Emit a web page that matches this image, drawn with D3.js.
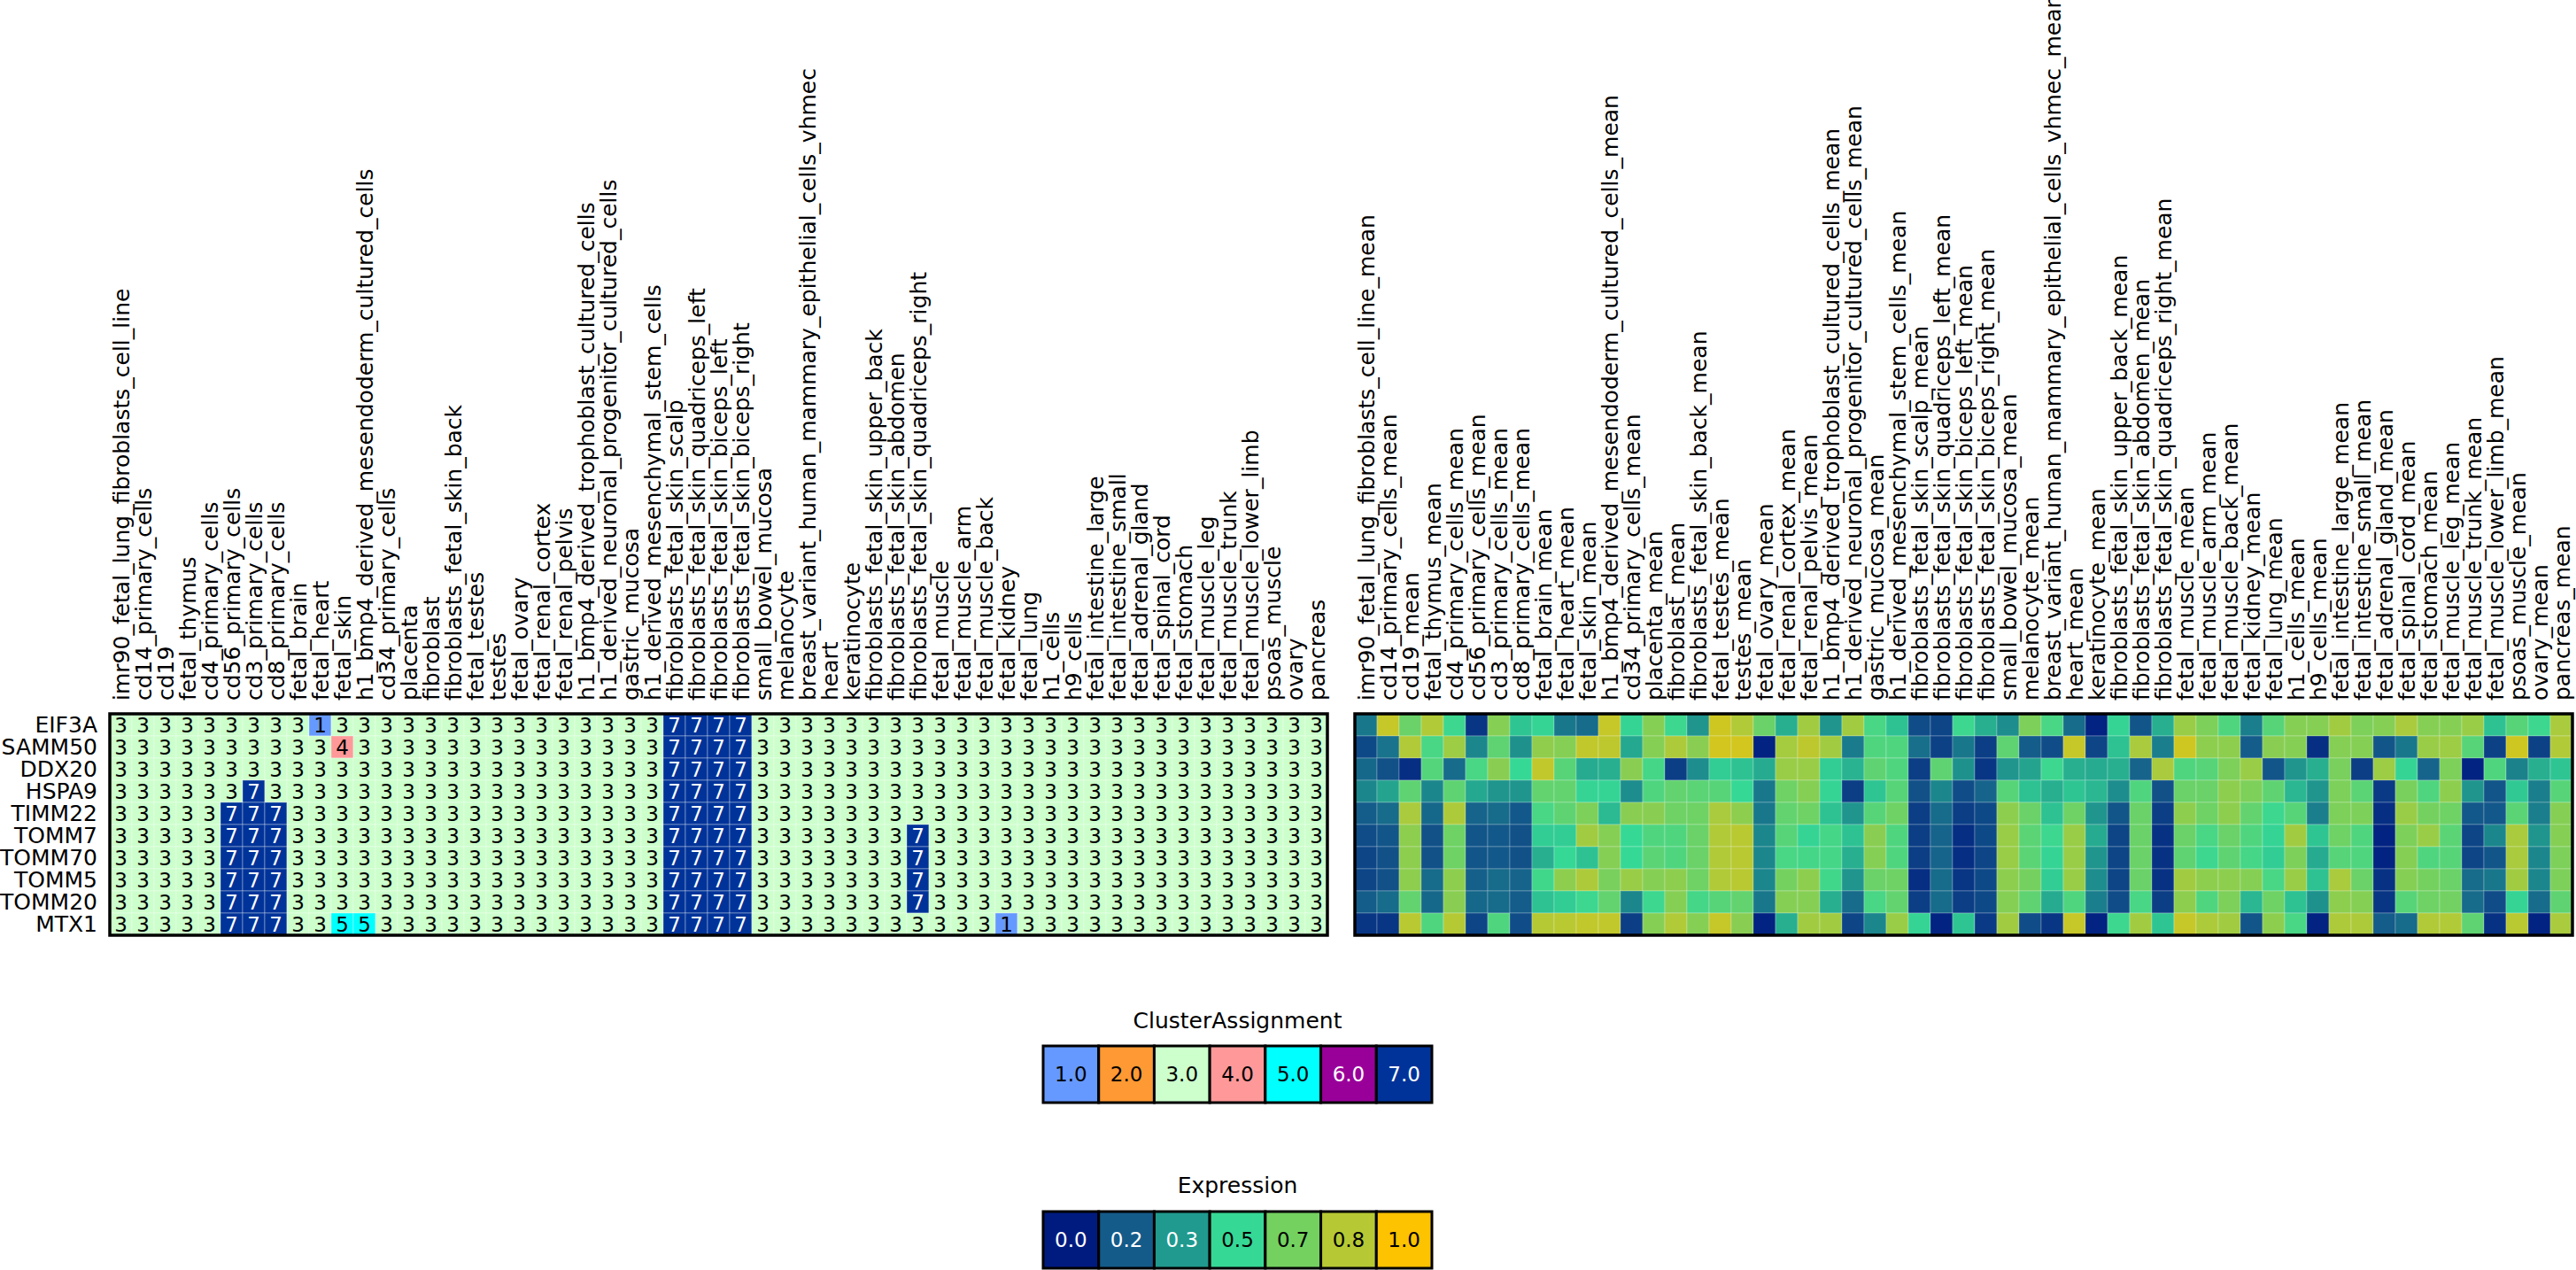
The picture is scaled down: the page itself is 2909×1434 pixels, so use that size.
<!DOCTYPE html>
<html>
<head>
<meta charset="utf-8">
<script src="https://cdn.jsdelivr.net/npm/d3@7"></script>
<style>
  body { margin: 0; background: #fff; }
  svg { display: block; font-family: "DejaVu Sans", sans-serif; }
</style>
</head>
<body>
<svg id="chart" width="2909" height="1434"></svg>
<script>
'use strict'

// rows / columns
const genes = ['EIF3A', 'SAMM50', 'DDX20', 'HSPA9', 'TIMM22', 'TOMM7', 'TOMM70', 'TOMM5', 'TOMM20', 'MTX1']
const tissues = ['imr90_fetal_lung_fibroblasts_cell_line', 'cd14_primary_cells', 'cd19', 'fetal_thymus', 'cd4_primary_cells',
  'cd56_primary_cells', 'cd3_primary_cells', 'cd8_primary_cells', 'fetal_brain', 'fetal_heart',
  'fetal_skin', 'h1_bmp4_derived_mesendoderm_cultured_cells', 'cd34_primary_cells', 'placenta', 'fibroblast',
  'fibroblasts_fetal_skin_back', 'fetal_testes', 'testes', 'fetal_ovary', 'fetal_renal_cortex',
  'fetal_renal_pelvis', 'h1_bmp4_derived_trophoblast_cultured_cells', 'h1_derived_neuronal_progenitor_cultured_cells', 'gastric_mucosa', 'h1_derived_mesenchymal_stem_cells',
  'fibroblasts_fetal_skin_scalp', 'fibroblasts_fetal_skin_quadriceps_left', 'fibroblasts_fetal_skin_biceps_left', 'fibroblasts_fetal_skin_biceps_right', 'small_bowel_mucosa',
  'melanocyte', 'breast_variant_human_mammary_epithelial_cells_vhmec', 'heart', 'keratinocyte', 'fibroblasts_fetal_skin_upper_back',
  'fibroblasts_fetal_skin_abdomen', 'fibroblasts_fetal_skin_quadriceps_right', 'fetal_muscle', 'fetal_muscle_arm', 'fetal_muscle_back',
  'fetal_kidney', 'fetal_lung', 'h1_cells', 'h9_cells', 'fetal_intestine_large',
  'fetal_intestine_small', 'fetal_adrenal_gland', 'fetal_spinal_cord', 'fetal_stomach', 'fetal_muscle_leg',
  'fetal_muscle_trunk', 'fetal_muscle_lower_limb', 'psoas_muscle', 'ovary', 'pancreas']
const meanTissues = tissues.map(t => t + '_mean')

// cluster assignment per gene (55 tissues each)
const clustEIF3A  = [3,3,3,3,3, 3,3,3,3,1, 3,3,3,3,3, 3,3,3,3,3, 3,3,3,3,3, 7,7,7,7,3, 3,3,3,3,3, 3,3,3,3,3, 3,3,3,3,3, 3,3,3,3,3, 3,3,3,3,3]
const clustSAMM50 = [3,3,3,3,3, 3,3,3,3,3, 4,3,3,3,3, 3,3,3,3,3, 3,3,3,3,3, 7,7,7,7,3, 3,3,3,3,3, 3,3,3,3,3, 3,3,3,3,3, 3,3,3,3,3, 3,3,3,3,3]
const clustDDX20  = [3,3,3,3,3, 3,3,3,3,3, 3,3,3,3,3, 3,3,3,3,3, 3,3,3,3,3, 7,7,7,7,3, 3,3,3,3,3, 3,3,3,3,3, 3,3,3,3,3, 3,3,3,3,3, 3,3,3,3,3]
const clustHSPA9  = [3,3,3,3,3, 3,7,3,3,3, 3,3,3,3,3, 3,3,3,3,3, 3,3,3,3,3, 7,7,7,7,3, 3,3,3,3,3, 3,3,3,3,3, 3,3,3,3,3, 3,3,3,3,3, 3,3,3,3,3]
const clustTIMM22 = [3,3,3,3,3, 7,7,7,3,3, 3,3,3,3,3, 3,3,3,3,3, 3,3,3,3,3, 7,7,7,7,3, 3,3,3,3,3, 3,3,3,3,3, 3,3,3,3,3, 3,3,3,3,3, 3,3,3,3,3]
const clustTOMM7  = [3,3,3,3,3, 7,7,7,3,3, 3,3,3,3,3, 3,3,3,3,3, 3,3,3,3,3, 7,7,7,7,3, 3,3,3,3,3, 3,7,3,3,3, 3,3,3,3,3, 3,3,3,3,3, 3,3,3,3,3]
const clustTOMM70 = [3,3,3,3,3, 7,7,7,3,3, 3,3,3,3,3, 3,3,3,3,3, 3,3,3,3,3, 7,7,7,7,3, 3,3,3,3,3, 3,7,3,3,3, 3,3,3,3,3, 3,3,3,3,3, 3,3,3,3,3]
const clustTOMM5  = [3,3,3,3,3, 7,7,7,3,3, 3,3,3,3,3, 3,3,3,3,3, 3,3,3,3,3, 7,7,7,7,3, 3,3,3,3,3, 3,7,3,3,3, 3,3,3,3,3, 3,3,3,3,3, 3,3,3,3,3]
const clustTOMM20 = [3,3,3,3,3, 7,7,7,3,3, 3,3,3,3,3, 3,3,3,3,3, 3,3,3,3,3, 7,7,7,7,3, 3,3,3,3,3, 3,7,3,3,3, 3,3,3,3,3, 3,3,3,3,3, 3,3,3,3,3]
const clustMTX1   = [3,3,3,3,3, 7,7,7,3,3, 5,5,3,3,3, 3,3,3,3,3, 3,3,3,3,3, 7,7,7,7,3, 3,3,3,3,3, 3,3,3,3,3, 1,3,3,3,3, 3,3,3,3,3, 3,3,3,3,3]

// mean expression per gene (55 tissues each)
const exprEIF3A  = [.24,.87,.64,.82,.52, .07,.71,.45,.49,.24, .21,.87,.49,.71,.52, .32,.89,.82,.64,.39, .78,.32,.78,.55,.44, .13,.11,.52,.39,.30, .69,.55,.21,.02,.49, .15,.39,.76,.69,.57, .26,.59,.71,.71,.78, .69,.71,.80,.71,.71, .76,.44,.59,.52,.80]
const exprSAMM50 = [.12,.23,.82,.55,.77, .28,.61,.31,.74,.71, .86,.85,.37,.71,.81, .72,.90,.90,.02,.79, .85,.78,.25,.57,.57, .22,.10,.24,.09,.61, .17,.13,.87,.11,.44, .80,.26,.89,.73,.73, .17,.72,.71,.05,.71, .71,.15,.24,.76,.77, .59,.10,.89,.10,.82]
const exprDDX20  = [.20,.14,.05,.58,.21, .55,.72,.50,.86,.59, .38,.39,.72,.54,.09, .30,.47,.44,.38,.76, .76,.47,.40,.61,.57, .09,.61,.31,.07,.32, .36,.52,.39,.38,.39, .19,.80,.57,.59,.69, .76,.15,.32,.39,.68, .09,.77,.49,.19,.69, .02,.57,.27,.39,.45]
const exprHSPA9  = [.28,.36,.61,.28,.61, .37,.32,.32,.62,.62, .49,.49,.30,.57,.62, .60,.59,.50,.24,.65, .71,.49,.09,.45,.59, .14,.28,.13,.19,.59, .44,.39,.45,.41,.30, .57,.14,.64,.64,.73, .69,.61,.41,.32,.69, .60,.08,.68,.57,.73, .32,.15,.46,.26,.59]
const exprTIMM22 = [.17,.21,.80,.20,.81, .19,.21,.16,.55,.61, .69,.42,.72,.72,.65, .65,.80,.73,.24,.62, .65,.44,.32,.59,.65, .09,.21,.09,.12,.73, .64,.44,.65,.32,.15, .64,.09,.73,.65,.73, .62,.52,.59,.26,.69, .69,.05,.76,.67,.65, .16,.16,.60,.26,.71]
const exprTOMM7  = [.13,.15,.73,.14,.65, .15,.16,.14,.47,.47, .78,.71,.50,.57,.57, .64,.82,.84,.28,.59, .49,.54,.44,.72,.57, .09,.19,.05,.12,.76, .60,.52,.76,.38,.11, .64,.06,.64,.55,.64, .57,.49,.78,.45,.65, .57,.02,.69,.76,.60, .11,.28,.80,.32,.71]
const exprTOMM70 = [.11,.14,.73,.14,.65, .15,.16,.14,.39,.50, .44,.71,.50,.60,.57, .64,.82,.84,.28,.55, .54,.54,.39,.71,.57, .09,.19,.05,.11,.76, .60,.49,.76,.32,.11, .64,.06,.61,.52,.61, .54,.47,.69,.38,.59, .57,.02,.71,.57,.59, .11,.15,.80,.28,.69]
const exprTOMM5  = [.11,.14,.73,.21,.73, .18,.21,.19,.53,.73, .81,.68,.76,.71,.73, .65,.82,.84,.28,.67, .73,.53,.32,.64,.65, .05,.21,.07,.12,.73, .67,.47,.76,.30,.11, .64,.06,.78,.73,.73, .71,.55,.76,.44,.80, .64,.06,.71,.67,.64, .21,.24,.78,.28,.69]
const exprTOMM20 = [.17,.21,.62,.20,.72, .20,.21,.17,.44,.47, .52,.62,.28,.52,.71, .54,.59,.62,.24,.71, .71,.39,.21,.55,.62, .09,.21,.09,.12,.71, .61,.38,.57,.26,.13, .55,.09,.73,.57,.69, .41,.65,.44,.31,.73, .71,.07,.59,.65,.66, .21,.13,.49,.21,.61]
const exprMTX1   = [.07,.07,.84,.57,.83, .11,.57,.13,.83,.84, .86,.86,.09,.71,.82, .71,.87,.72,.02,.39, .78,.78,.11,.28,.76, .49,.02,.45,.08,.78, .13,.07,.87,.02,.52, .78,.45,.87,.81,.78, .15,.73,.55,.02,.81, .81,.17,.21,.82,.82, .61,.06,.84,.02,.80]

// legends
const clusterKeys = [1, 2, 3, 4, 5, 6, 7]
const clusterColors = ['#6699ff', '#ff9933', '#ccffcc', '#ff9999', '#00ffff', '#990099', '#003399']
const exprLegendLabels = ['0.0', '0.2', '0.3', '0.5', '0.7', '0.8', '1.0']
const exprColors = ['#001b80', '#145b8a', '#209a8e', '#36d895', '#74d160', '#b6c934', '#fdc200']

const clusterRows = [clustEIF3A, clustSAMM50, clustDDX20, clustHSPA9, clustTIMM22, clustTOMM7, clustTOMM70, clustTOMM5, clustTOMM20, clustMTX1]
const exprRows = [exprEIF3A, exprSAMM50, exprDDX20, exprHSPA9, exprTIMM22, exprTOMM7, exprTOMM70, exprTOMM5, exprTOMM20, exprMTX1]

const FONT = 25
const svg = d3.select('#chart')

// scales
const xL = d3.scaleBand().domain(tissues).range([124, 1499])
const xR = d3.scaleBand().domain(meanTissues).range([1530, 2905])
const y = d3.scaleBand().domain(genes).range([806, 1056])
const clusterColor = d3.scaleOrdinal().domain(clusterKeys).range(clusterColors)
const exprColor = d3.scaleLinear()
  .domain(exprColors.map((c, i) => i / (exprColors.length - 1)))
  .range(exprColors)
  .clamp(true)

// flatten into cells
const clusterCells = genes.flatMap((g, i) => tissues.map((t, j) => ({ g, t, v: clusterRows[i][j] })))
const exprCells = genes.flatMap((g, i) => meanTissues.map((t, j) => ({ g, t, v: exprRows[i][j] })))

// left heatmap: cluster assignment
const left = svg.append('g')
left.selectAll('rect')
  .data(clusterCells)
  .join('rect')
  .attr('x', d => xL(d.t))
  .attr('y', d => y(d.g))
  .attr('width', xL.bandwidth())
  .attr('height', y.bandwidth())
  .attr('fill', d => clusterColor(d.v))
  .attr('stroke', 'rgba(255,255,255,0.35)')
  .attr('stroke-width', 1)
left.selectAll('text')
  .data(clusterCells)
  .join('text')
  .attr('x', d => xL(d.t) + xL.bandwidth() / 2)
  .attr('y', d => y(d.g) + y.bandwidth() / 2)
  .attr('dy', '0.36em')
  .attr('text-anchor', 'middle')
  .attr('font-size', 23)
  .attr('fill', d => d.v >= 6 ? '#fff' : '#000')
  .text(d => d.v)

// right heatmap: expression
const right = svg.append('g')
right.selectAll('rect')
  .data(exprCells)
  .join('rect')
  .attr('x', d => xR(d.t))
  .attr('y', d => y(d.g))
  .attr('width', xR.bandwidth())
  .attr('height', y.bandwidth())
  .attr('fill', d => exprColor(d.v))
  .attr('stroke', 'rgba(255,255,255,0.25)')
  .attr('stroke-width', 1)

// outer frames
for (const x of [xL, xR]) {
  svg.append('rect')
    .attr('x', x.range()[0])
    .attr('y', y.range()[0])
    .attr('width', x.range()[1] - x.range()[0])
    .attr('height', y.range()[1] - y.range()[0])
    .attr('fill', 'none')
    .attr('stroke', '#000')
    .attr('stroke-width', 3.5)
}

// column labels, rotated
const colAxis = (x) => {
  const g = svg.append('g')
    .attr('transform', `translate(0,${y.range()[0]})`)
    .call(d3.axisTop(x).tickSize(0))
    .attr('font-family', 'DejaVu Sans')
    .attr('font-size', FONT)
  g.select('.domain').remove()
  g.selectAll('text')
    .attr('transform', 'rotate(-90)')
    .attr('x', 15)
    .attr('y', 0)
    .attr('dy', '0.36em')
    .attr('fill', '#000')
    .style('text-anchor', 'start')
}
colAxis(xL)
colAxis(xR)

// row labels
const rowAxis = svg.append('g')
  .attr('transform', `translate(${xL.range()[0]},0)`)
  .call(d3.axisLeft(y).tickSize(0).tickPadding(14))
  .attr('font-family', 'DejaVu Sans')
  .attr('font-size', FONT)
rowAxis.select('.domain').remove()
rowAxis.selectAll('text').attr('fill', '#000')

// legends
const legX = d3.scaleBand().domain(d3.range(7)).range([1178, 1617])
const legendCenter = (legX.range()[0] + legX.range()[1]) / 2

const drawLegend = (title, titleY, boxY, colors, labels, textColor) => {
  const g = svg.append('g')
  g.append('text')
    .attr('x', legendCenter)
    .attr('y', titleY)
    .attr('text-anchor', 'middle')
    .attr('font-size', FONT)
    .attr('fill', '#000')
    .text(title)
  g.selectAll('rect')
    .data(colors)
    .join('rect')
    .attr('x', (d, i) => legX(i))
    .attr('y', boxY)
    .attr('width', legX.bandwidth())
    .attr('height', 64)
    .attr('fill', d => d)
    .attr('stroke', '#000')
    .attr('stroke-width', 3)
  g.selectAll('.lab')
    .data(labels)
    .join('text')
    .attr('class', 'lab')
    .attr('x', (d, i) => legX(i) + legX.bandwidth() / 2)
    .attr('y', boxY + 32)
    .attr('dy', '0.36em')
    .attr('text-anchor', 'middle')
    .attr('font-size', 23)
    .attr('fill', (d, i) => textColor(i))
    .text(d => d)
}

drawLegend('ClusterAssignment', 1161, 1181, clusterColors,
  clusterKeys.map(d3.format('.1f')), i => clusterKeys[i] >= 6 ? '#fff' : '#000')
drawLegend('Expression', 1347, 1368, exprColors,
  exprLegendLabels, i => i <= 2 ? '#fff' : '#000')
</script>
</body>
</html>
